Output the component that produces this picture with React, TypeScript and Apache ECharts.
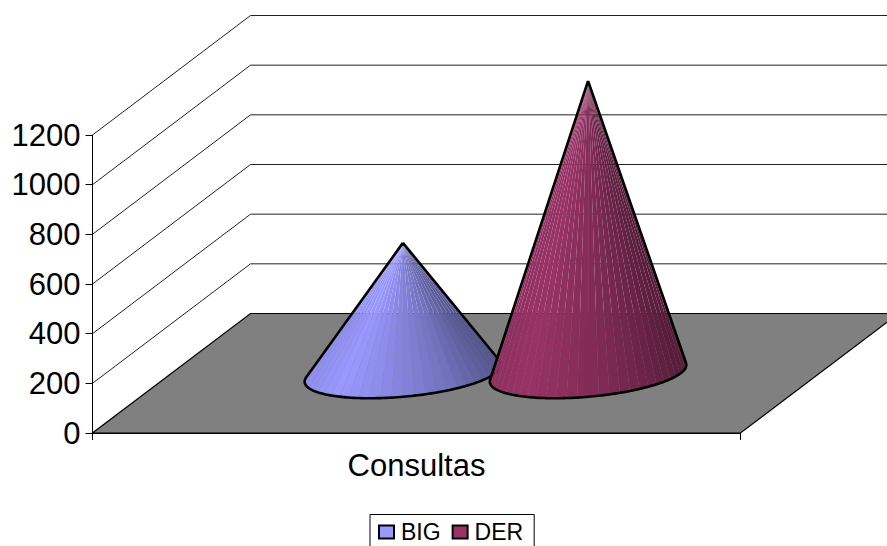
import React, { useEffect, useRef } from "react";
import * as echarts from "echarts";

const categories = ["Consultas"];
const yTicks = [0, 200, 400, 600, 800, 1000, 1200];
const bigValues = [525];
const derValues = [1177];

const DEPTH_X = 158;
const DEPTH_Y = 119.5;
const FONT = '"Liberation Sans", Arial, sans-serif';

const lerp = (a: number, b: number, k: number) => a + (b - a) * k;

// shade along the cone's width: fraction -> brightness
const SHADE: [number, number][] = [
  [0, 0.94],
  [0.16, 1],
  [0.5, 0.86],
  [0.75, 0.74],
  [1, 0.56],
];
function shade(rgb: number[], f: number) {
  let b = SHADE[SHADE.length - 1][1];
  for (let i = 1; i < SHADE.length; i++) {
    if (f <= SHADE[i][0]) {
      b = lerp(SHADE[i - 1][1], SHADE[i][1], (f - SHADE[i - 1][0]) / (SHADE[i][0] - SHADE[i - 1][0]));
      break;
    }
  }
  return `rgb(${rgb.map((c) => Math.round(c * b)).join(",")})`;
}

function coneSeries(name: string, values: number[], color: string, rgb: number[], side: number) {
  return {
    name,
    type: "custom",
    z: 5,
    itemStyle: { color, borderColor: "#000", borderWidth: 2 },
    data: values.map((v, i) => [i, v]),
    encode: { x: 0, y: 1 },
    renderItem: (_: any, api: any) => {
      const band = api.size([1, 0])[0];
      const top = api.coord([api.value(0), api.value(1)]);
      const foot = api.coord([api.value(0), 0]);
      const cx = foot[0] + DEPTH_X / 2 + (side * band) / 7;
      const cy = foot[1] - DEPTH_Y / 2;
      const ax = cx;
      const ay = top[1] - DEPTH_Y / 2;
      const ru = band / 7;
      const ky = 25;
      const kx = (ky * DEPTH_X) / DEPTH_Y;
      const P = (t: number) => [cx + ru * Math.cos(t) + kx * Math.sin(t), cy - ky * Math.sin(t)];
      let tL = Math.PI;
      let tR = 2 * Math.PI;
      let rMin = Infinity;
      let rMax = -Infinity;
      for (let i = 0; i <= 1440; i++) {
        const t = Math.PI / 2 + (i / 1440) * 2 * Math.PI;
        const p = P(t);
        const r = (p[0] - ax) / (p[1] - ay);
        if (r < rMin) { rMin = r; tL = t; }
        if (r > rMax) { rMax = r; tR = t; }
      }
      const x0 = P(tL)[0];
      const x1 = P(tR)[0];
      const N = 30;
      const children: any[] = [];
      for (let i = 0; i < N; i++) {
        const a = P(lerp(tL, tR, i / N));
        const b = P(lerp(tL, tR, (i + 1) / N));
        children.push({
          type: "polygon",
          shape: { points: [[ax, ay], a, b] },
          style: { fill: shade(rgb, ((a[0] + b[0]) / 2 - x0) / (x1 - x0)) },
          silent: true,
        });
      }
      const outline: number[][] = [[ax, ay]];
      for (let i = 0; i <= 120; i++) outline.push(P(lerp(tL, tR, i / 120)));
      outline.push([ax, ay]);
      children.push({
        type: "polyline",
        shape: { points: outline },
        style: { fill: "none", stroke: "#000", lineWidth: 2.6, lineJoin: "round" },
        silent: true,
      });
      return { type: "group", children };
    },
  };
}

export default function App() {
  const ref = useRef<HTMLDivElement>(null);
  useEffect(() => {
    const chart = echarts.init(ref.current!, null, { renderer: "svg" });
    chart.setOption({
      animation: false,
      backgroundColor: "#fff",
      textStyle: { fontFamily: FONT },
      grid: { left: 92.5, top: 135, width: 648, height: 298 },
      xAxis: {
        type: "category",
        data: categories,
        axisLine: { lineStyle: { color: "#000", width: 1 } },
        axisTick: { show: true, length: 7, lineStyle: { color: "#000" } },
        axisLabel: { color: "#000", fontSize: 31, fontFamily: FONT, margin: 17 },
        splitLine: { show: false },
      },
      yAxis: {
        type: "value",
        min: 0,
        max: 1200,
        interval: 200,
        axisLine: { show: true, lineStyle: { color: "#000", width: 1 } },
        axisTick: { show: true, length: 7, lineStyle: { color: "#000" } },
        axisLabel: {
          color: "#000",
          fontSize: 31,
          fontFamily: FONT,
          margin: 12,
          formatter: (v: number) => String(v),
        },
        splitLine: { show: false },
      },
      legend: {
        left: 370,
        top: 514.5,
        padding: [6, 11, 7, 8],
        itemWidth: 15,
        itemHeight: 13,
        itemGap: 11,
        icon: "rect",
        borderColor: "#000",
        borderWidth: 1,
        backgroundColor: "#fff",
        itemStyle: { borderColor: "#000", borderWidth: 2 },
        textStyle: { color: "#000", fontSize: 23, fontFamily: FONT, padding: [0, 0, 0, 2] },
        data: ["BIG", "DER"],
      },
      series: [
        {
          type: "custom",
          name: "wall",
          z: 1,
          silent: true,
          data: yTicks.slice(1).map((v) => [0, v]),
          encode: { x: 0, y: 1 },
          renderItem: (_: any, api: any) => {
            const band = api.size([1, 0])[0];
            const p = api.coord([0, api.value(1)]);
            const left = p[0] - band / 2;
            return {
              type: "polyline",
              shape: {
                points: [
                  [left, p[1]],
                  [left + DEPTH_X, p[1] - DEPTH_Y],
                  [left + DEPTH_X + band, p[1] - DEPTH_Y],
                ],
              },
              style: { fill: "none", stroke: "#222", lineWidth: 1 },
            };
          },
        },
        {
          type: "custom",
          name: "floor",
          z: 2,
          silent: true,
          data: [[0, 0]],
          encode: { x: 0, y: 1 },
          renderItem: (_: any, api: any) => {
            const band = api.size([1, 0])[0];
            const p = api.coord([0, 0]);
            const left = p[0] - band / 2;
            const pts = [
              [left, p[1]],
              [left + band, p[1]],
              [left + band + DEPTH_X, p[1] - DEPTH_Y],
              [left + DEPTH_X, p[1] - DEPTH_Y],
            ];
            return {
              type: "polygon",
              shape: { points: pts },
              style: { fill: "#808080", stroke: "#000", lineWidth: 1.2 },
            };
          },
        },
        coneSeries("BIG", bigValues, "#9999ff", [153, 153, 255], -1),
        coneSeries("DER", derValues, "#993366", [153, 51, 102], 1),
      ],
    });
    return () => chart.dispose();
  }, []);
  return <div ref={ref} style={{ position: "fixed", left: 0, top: 0, width: 887, height: 546 }} />;
}
